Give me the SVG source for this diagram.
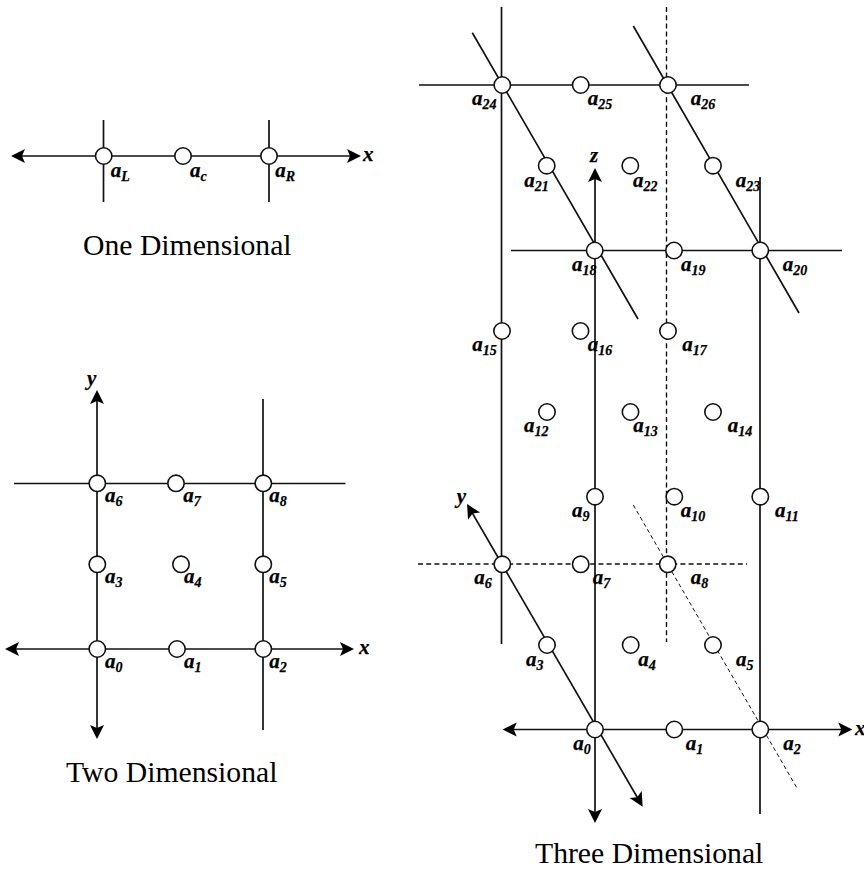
<svg xmlns="http://www.w3.org/2000/svg" width="864" height="872" viewBox="0 0 864 872">
<style>
.l{fill:none;stroke:#111;stroke-width:1.7}
.a{marker-start:url(#h);marker-end:url(#h)}
.d{stroke-width:1.4;stroke-dasharray:5 3.2}
.t{stroke-width:1;stroke-dasharray:4 3}
circle{fill:#fff;stroke:#111;stroke-width:1.6}
text{font-family:"Liberation Serif","Times New Roman",serif;fill:#000}
.n{font-size:21px;font-weight:bold;font-style:italic;stroke:#000;stroke-width:.25}
.s{font-size:14px}
.c{font-size:29.7px}
</style>
<defs>
<marker id="h" markerUnits="userSpaceOnUse" markerWidth="16" markerHeight="16" refX="10" refY="8" orient="auto-start-reverse" viewBox="0 0 16 16"><path d="M0.5 1L14.5 8L0.5 15L3.5 8Z" fill="#000"/></marker>
</defs>
<g id="connectors">
<path class="l a" d="M15.5 156H356.5"/>
<path class="l" d="M103.5 120V202M269 120V202"/>
<path class="l a" d="M9.5 649H349.5"/>
<path class="l a" d="M97 394.5V734.5"/>
<path class="l" d="M14 483.5H345.5M263 399V730"/>
<path class="l a" d="M507.2 729.5H847.8"/>
<path class="l a" d="M595 172.5V818.5"/>
<path class="l a" d="M469.3 507.9L640.4 802.8"/>
<path class="l" d="M501.5 7V644M760 177V814M419 85H749M511 250.5H842M472.3 32.7L638 319M633.3 26L799 313"/>
<path class="l d" d="M666.5 7V642M418 564H747"/>
<path class="l t" d="M633.3 505L797.7 789.3"/>
</g>
<g id="one-dimensional">
<g id="n1-aL"><circle cx="103.7" cy="156" r="8.2"/><text class="n" x="110.7" y="176.7">a<tspan class="s" dy="4">L</tspan></text></g>
<g id="n1-ac"><circle cx="183" cy="156" r="8.2"/><text class="n" x="190" y="176.7">a<tspan class="s" dy="4">c</tspan></text></g>
<g id="n1-aR"><circle cx="269" cy="156" r="8.2"/><text class="n" x="275.3" y="176.7">a<tspan class="s" dy="4">R</tspan></text></g>
<text class="n" x="363" y="161">x</text>
<text class="c" x="83" y="255">One Dimensional</text>
</g>
<g id="two-dimensional">
<g id="n2-a0"><circle cx="97.3" cy="649" r="8.2"/><text class="n" x="105" y="668">a<tspan class="s" dy="4">0</tspan></text></g>
<g id="n2-a1"><circle cx="177" cy="649" r="8.2"/><text class="n" x="184" y="668">a<tspan class="s" dy="4">1</tspan></text></g>
<g id="n2-a2"><circle cx="263.3" cy="649" r="8.2"/><text class="n" x="269.3" y="668">a<tspan class="s" dy="4">2</tspan></text></g>
<g id="n2-a3"><circle cx="97.3" cy="564.3" r="8.2"/><text class="n" x="105" y="583">a<tspan class="s" dy="4">3</tspan></text></g>
<g id="n2-a4"><circle cx="181" cy="564.3" r="8.2"/><text class="n" x="184" y="583">a<tspan class="s" dy="4">4</tspan></text></g>
<g id="n2-a5"><circle cx="263.3" cy="564.3" r="8.2"/><text class="n" x="269.3" y="583">a<tspan class="s" dy="4">5</tspan></text></g>
<g id="n2-a6"><circle cx="97.3" cy="483.3" r="8.2"/><text class="n" x="105" y="502">a<tspan class="s" dy="4">6</tspan></text></g>
<g id="n2-a7"><circle cx="176" cy="483.3" r="8.2"/><text class="n" x="183.3" y="502">a<tspan class="s" dy="4">7</tspan></text></g>
<g id="n2-a8"><circle cx="263.3" cy="483.3" r="8.2"/><text class="n" x="269.3" y="502">a<tspan class="s" dy="4">8</tspan></text></g>
<text class="n" x="359" y="654">x</text>
<text class="n" x="87" y="385">y</text>
<text class="c" x="66" y="782">Two Dimensional</text>
</g>
<g id="three-dimensional">
<g id="n3-a0"><circle cx="595" cy="729.5" r="8.2"/><text class="n" x="573.3" y="750">a<tspan class="s" dy="4">0</tspan></text></g>
<g id="n3-a1"><circle cx="674.3" cy="729.5" r="8.2"/><text class="n" x="685.7" y="750">a<tspan class="s" dy="4">1</tspan></text></g>
<g id="n3-a2"><circle cx="760.3" cy="729.5" r="8.2"/><text class="n" x="783.3" y="750">a<tspan class="s" dy="4">2</tspan></text></g>
<g id="n3-a3"><circle cx="547" cy="645" r="8.2"/><text class="n" x="526" y="665.7">a<tspan class="s" dy="4">3</tspan></text></g>
<g id="n3-a4"><circle cx="630.7" cy="645" r="8.2"/><text class="n" x="638.3" y="665.7">a<tspan class="s" dy="4">4</tspan></text></g>
<g id="n3-a5"><circle cx="713" cy="645" r="8.2"/><text class="n" x="736" y="665.7">a<tspan class="s" dy="4">5</tspan></text></g>
<g id="n3-a6"><circle cx="502.3" cy="564.3" r="8.2"/><text class="n" x="474.3" y="584">a<tspan class="s" dy="4">6</tspan></text></g>
<g id="n3-a7"><circle cx="580.7" cy="564.3" r="8.2"/><text class="n" x="592.7" y="584">a<tspan class="s" dy="4">7</tspan></text></g>
<g id="n3-a8"><circle cx="667.7" cy="564.3" r="8.2"/><text class="n" x="690.7" y="584">a<tspan class="s" dy="4">8</tspan></text></g>
<g id="n3-a9"><circle cx="595" cy="496.7" r="8.2"/><text class="n" x="572" y="516.7">a<tspan class="s" dy="4">9</tspan></text></g>
<g id="n3-a10"><circle cx="674.3" cy="496.7" r="8.2"/><text class="n" x="680.7" y="516.7">a<tspan class="s" dy="4">10</tspan></text></g>
<g id="n3-a11"><circle cx="760.3" cy="496.7" r="8.2"/><text class="n" x="775" y="516.7">a<tspan class="s" dy="4">11</tspan></text></g>
<g id="n3-a12"><circle cx="547" cy="412" r="8.2"/><text class="n" x="524" y="432.3">a<tspan class="s" dy="4">12</tspan></text></g>
<g id="n3-a13"><circle cx="630.5" cy="412" r="8.2"/><text class="n" x="633.3" y="432.3">a<tspan class="s" dy="4">13</tspan></text></g>
<g id="n3-a14"><circle cx="713" cy="412" r="8.2"/><text class="n" x="727.7" y="432.3">a<tspan class="s" dy="4">14</tspan></text></g>
<g id="n3-a15"><circle cx="502" cy="331" r="8.2"/><text class="n" x="472.3" y="350.7">a<tspan class="s" dy="4">15</tspan></text></g>
<g id="n3-a16"><circle cx="580.5" cy="331" r="8.2"/><text class="n" x="587.7" y="350.7">a<tspan class="s" dy="4">16</tspan></text></g>
<g id="n3-a17"><circle cx="668" cy="331" r="8.2"/><text class="n" x="682.3" y="350.7">a<tspan class="s" dy="4">17</tspan></text></g>
<g id="n3-a18"><circle cx="594.7" cy="250.5" r="8.2"/><text class="n" x="572" y="270.7">a<tspan class="s" dy="4">18</tspan></text></g>
<g id="n3-a19"><circle cx="674" cy="250.5" r="8.2"/><text class="n" x="681" y="270.7">a<tspan class="s" dy="4">19</tspan></text></g>
<g id="n3-a20"><circle cx="760.3" cy="250.5" r="8.2"/><text class="n" x="782.7" y="270.7">a<tspan class="s" dy="4">20</tspan></text></g>
<g id="n3-a21"><circle cx="546.7" cy="165.7" r="8.2"/><text class="n" x="524.3" y="186.7">a<tspan class="s" dy="4">21</tspan></text></g>
<g id="n3-a22"><circle cx="630.3" cy="165.7" r="8.2"/><text class="n" x="633" y="186.7">a<tspan class="s" dy="4">22</tspan></text></g>
<g id="n3-a23"><circle cx="713" cy="165.7" r="8.2"/><text class="n" x="735.7" y="186.7">a<tspan class="s" dy="4">23</tspan></text></g>
<g id="n3-a24"><circle cx="502.3" cy="85" r="8.2"/><text class="n" x="472" y="105">a<tspan class="s" dy="4">24</tspan></text></g>
<g id="n3-a25"><circle cx="580.7" cy="85" r="8.2"/><text class="n" x="587.7" y="105">a<tspan class="s" dy="4">25</tspan></text></g>
<g id="n3-a26"><circle cx="668" cy="85" r="8.2"/><text class="n" x="690.7" y="105">a<tspan class="s" dy="4">26</tspan></text></g>
<text class="n" x="855" y="735">x</text>
<text class="n" x="456.7" y="503">y</text>
<text class="n" x="590" y="161.7">z</text>
<text class="c" x="535" y="863">Three Dimensional</text>
</g>
</svg>
